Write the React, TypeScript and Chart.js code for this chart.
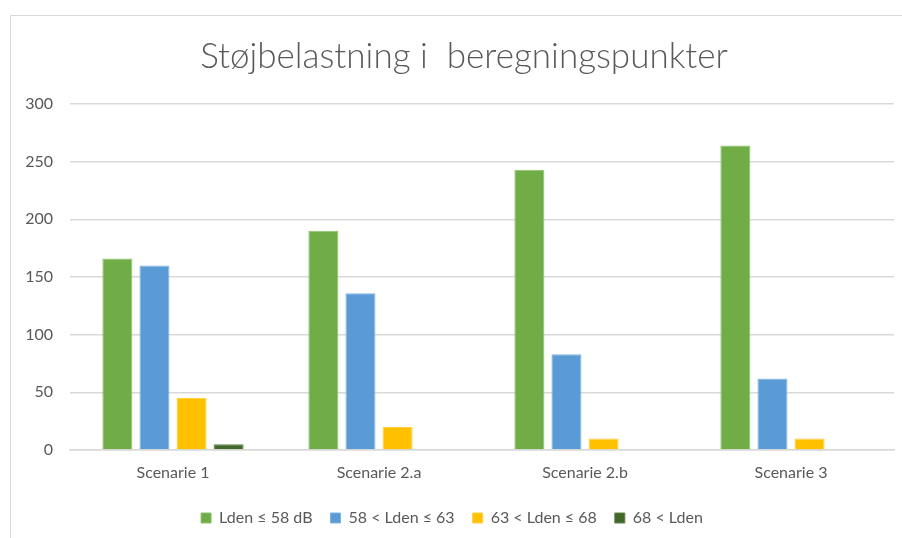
import React, { useEffect, useRef } from "react";
import { Chart, registerables } from "chart.js";

Chart.register(...registerables);

const categories = ["Scenarie 1", "Scenarie 2.a", "Scenarie 2.b", "Scenarie 3"];
const seriesLabels = ["Lden ≤ 58 dB", "58 < Lden ≤ 63", "63 < Lden ≤ 68", "68 < Lden"];
const lden58 = [166, 190, 243, 264];
const lden58to63 = [160, 136, 83, 62];
const lden63to68 = [45, 20, 10, 10];
const lden68plus = [5, 0, 0, 0];
const yTicks = [0, 50, 100, 150, 200, 250, 300];
const titleText = "Støjbelastning i  beregningspunkter";

const colors = ["#70AD47", "#5B9BD5", "#FFC000", "#43682B"];
const borders = ["#8CC06A", "#80B4E0", "#FFD040", "#5F8048"];

const titleShift = {
  id: "titleShift",
  afterLayout(chart: any) {
    const t = chart.titleBlock;
    if (t) {
      t.left = 26;
      t.right = 902;
      t.width = 876;
    }
  },
};

export default function App() {
  const ref = useRef<HTMLCanvasElement | null>(null);

  useEffect(() => {
    if (!ref.current) return;
    const values = [lden58, lden58to63, lden63to68, lden68plus];
    const chart = new Chart(ref.current, {
      type: "bar",
      data: {
        labels: categories,
        datasets: values.map((v, i) => ({
          label: seriesLabels[i],
          data: v,
          backgroundColor: colors[i],
          borderColor: borders[i],
          borderWidth: 1,
          categoryPercentage: 0.72,
          barPercentage: 0.81,
        })),
      },
      plugins: [titleShift],
      options: {
        animation: false,
        responsive: false,
        maintainAspectRatio: false,
        layout: { padding: { left: 10, right: 8, top: 22, bottom: 2 } },
        plugins: {
          title: {
            display: true,
            text: titleText,
            color: "#595959",
            font: { family: "Lato", size: 35, weight: "300" as any },
            padding: { top: 14, bottom: 26 },
          },
          legend: {
            position: "bottom",
            labels: {
              color: "#595959",
              font: { family: "Lato", size: 16 },
              boxWidth: 10,
              boxHeight: 10,
              padding: 18,
            },
          },
          tooltip: { enabled: false },
        },
        scales: {
          x: {
            grid: { display: false },
            border: { color: "#d9d9d9", width: 1.5 },
            ticks: { color: "#595959", font: { family: "Lato", size: 16 }, padding: 5 },
            afterFit: (s: any) => {
              s.height = 42;
            },
          },
          y: {
            min: 0,
            max: 300,
            afterBuildTicks: (s: any) => {
              s.ticks = yTicks.map((v) => ({ value: v }));
            },
            afterFit: (s: any) => {
              s.width = 60;
            },
            grid: { color: "#d9d9d9", lineWidth: 1.5, drawTicks: false },
            border: { display: false },
            ticks: { color: "#595959", font: { family: "Lato", size: 16 }, padding: 17 },
          },
        },
      },
    });
    return () => chart.destroy();
  }, []);

  return (
    <div style={{ position: "fixed", left: 0, top: 0, width: 902, height: 538, overflow: "hidden", background: "#fff" }}>
      <div
        style={{
          position: "absolute",
          left: 10,
          top: 15,
          width: 1000,
          height: 1000,
          border: "1.5px solid #d9d9d9",
        }}
      />
      <canvas ref={ref} width={902} height={538} style={{ position: "absolute", left: 0, top: 0 }} />
    </div>
  );
}
